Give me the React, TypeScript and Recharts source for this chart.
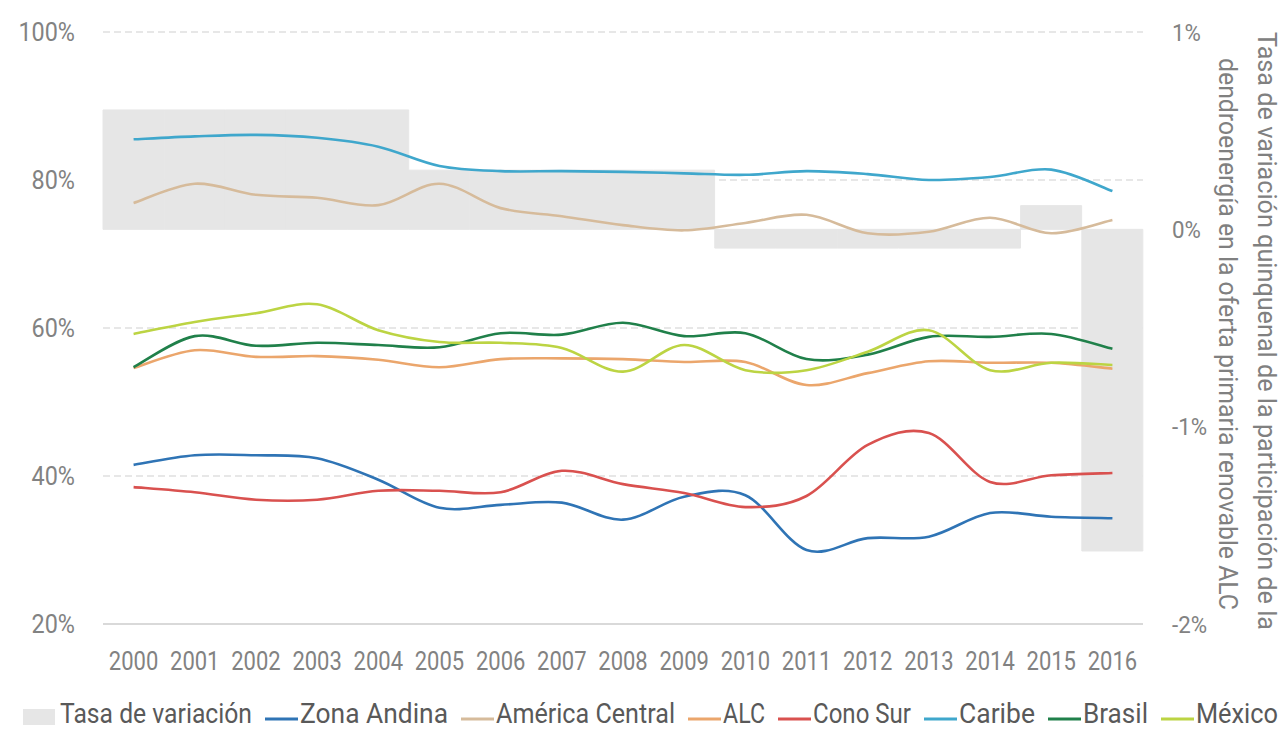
import React from 'react';
import { ComposedChart, Bar, Line, XAxis, YAxis, CartesianGrid, Legend } from 'recharts';

const years = ['2000', '2001', '2002', '2003', '2004', '2005', '2006', '2007', '2008', '2009', '2010', '2011', '2012', '2013', '2014', '2015', '2016'];

// Right axis (%): quinquennial variation rate
const tasaVariacion = [0.605, 0.605, 0.605, 0.605, 0.605, 0.3, 0.3, 0.3, 0.3, 0.3, -0.095, -0.095, -0.095, -0.095, -0.095, 0.12, -1.63];

// Left axis (%)
const zonaAndina = [41.5, 42.8, 42.8, 42.4, 39.5, 35.7, 36.1, 36.4, 34.1, 37.2, 37.4, 30.0, 31.6, 31.8, 35.0, 34.5, 34.3];
const americaCentral = [76.9, 79.5, 78.0, 77.6, 76.6, 79.5, 76.2, 75.1, 73.9, 73.2, 74.2, 75.3, 72.8, 73.0, 74.9, 72.8, 74.6];
const alc = [54.6, 57.0, 56.1, 56.2, 55.7, 54.7, 55.8, 55.9, 55.8, 55.4, 55.4, 52.3, 53.9, 55.5, 55.3, 55.3, 54.5];
const conoSur = [38.5, 37.8, 36.8, 36.8, 38.0, 38.0, 37.8, 40.7, 38.9, 37.7, 35.8, 37.3, 44.2, 45.8, 39.2, 40.1, 40.4];
const caribe = [85.5, 85.9, 86.1, 85.7, 84.5, 81.9, 81.2, 81.2, 81.1, 80.9, 80.7, 81.2, 80.8, 80.0, 80.4, 81.4, 78.5];
const brasil = [54.7, 58.9, 57.6, 58.0, 57.7, 57.4, 59.3, 59.1, 60.7, 58.9, 59.3, 55.8, 56.4, 58.8, 58.8, 59.2, 57.2];
const mexico = [59.2, 60.8, 62.0, 63.2, 59.7, 58.1, 58.0, 57.3, 54.1, 57.7, 54.3, 54.3, 56.8, 59.7, 54.3, 55.3, 55.0];

const leftTicks = [20, 40, 60, 80, 100];
const rightTicks = [-2, -1, 0, 1];

const barName = 'Tasa de variación';
const rightTitleLine1 = 'Tasa de variación quinquenal de la participación de la';
const rightTitleLine2 = 'dendroenergía en la oferta primaria renovable ALC';

const series = [
  { key: 'zonaAndina', name: 'Zona Andina', color: '#2f74b5', values: zonaAndina },
  { key: 'americaCentral', name: 'América Central', color: '#d6bb9b', values: americaCentral },
  { key: 'alc', name: 'ALC', color: '#eba66c', values: alc },
  { key: 'conoSur', name: 'Cono Sur', color: '#d9514f', values: conoSur },
  { key: 'caribe', name: 'Caribe', color: '#3fa7cc', values: caribe },
  { key: 'brasil', name: 'Brasil', color: '#20804a', values: brasil },
  { key: 'mexico', name: 'México', color: '#bcd443', values: mexico },
];

// approximate rendered widths of the legend labels (condensed face)
const legendLabelWidths = [192, 148, 179, 42, 98, 76, 65, 82];

const data = years.map((year, i) => {
  const row: Record<string, string | number> = { year, tasa: tasaVariacion[i] };
  series.forEach((s) => {
    row[s.key] = s.values[i];
  });
  return row;
});

const FONT = "Roboto, 'Noto Sans', sans-serif";
const TICK_COLOR = '#828282';
const LEGEND_H = 44;

// Smooth curve (uniform Catmull-Rom, like a spreadsheet "smoothed line")
function smoothCurve(context: any) {
  let pts: number[][] = [];
  return {
    areaStart() {},
    areaEnd() {},
    lineStart() {
      pts = [];
    },
    point(x: number, y: number) {
      pts.push([+x, +y]);
    },
    lineEnd() {
      const n = pts.length;
      if (!n) return;
      context.moveTo(pts[0][0], pts[0][1]);
      for (let i = 0; i < n - 1; i++) {
        const p0 = pts[i - 1] || pts[i];
        const p1 = pts[i];
        const p2 = pts[i + 1];
        const p3 = pts[i + 2] || p2;
        context.bezierCurveTo(
          p1[0] + (p2[0] - p0[0]) / 6,
          p1[1] + (p2[1] - p0[1]) / 6,
          p2[0] - (p3[0] - p1[0]) / 6,
          p2[1] - (p3[1] - p1[1]) / 6,
          p2[0],
          p2[1]
        );
      }
    },
  };
}

const makeTick = (anchor: 'start' | 'middle' | 'end', size: number, sx: number, dy: string) => (props: any) => {
  const { x, y, payload, tickFormatter } = props;
  const label = tickFormatter ? tickFormatter(payload.value, payload.index) : payload.value;
  return (
    <text
      transform={`translate(${x},${y}) scale(${sx},1)`}
      x={0}
      y={0}
      dy={dy}
      textAnchor={anchor}
      fill={TICK_COLOR}
      fontSize={size}
      fontFamily={FONT}
    >
      {label}
    </text>
  );
};

const XTick = makeTick('middle', 25, 0.88, '0.71em');
const LeftTick = makeTick('end', 26, 0.9, '0.355em');
const RightTick = makeTick('start', 24, 0.93, '0.355em');

const RightTitle = () => (
  <g fill="#808080" fontFamily={FONT} fontSize={26}>
    <text
      x={1258}
      y={331}
      transform="rotate(90, 1258, 331)"
      textAnchor="middle"
      textLength={598}
      lengthAdjust="spacingAndGlyphs"
    >
      {rightTitleLine1}
    </text>
    <text
      x={1219}
      y={334}
      transform="rotate(90, 1219, 334)"
      textAnchor="middle"
      textLength={552}
      lengthAdjust="spacingAndGlyphs"
    >
      {rightTitleLine2}
    </text>
  </g>
);

const renderLegend = () => {
  const items: React.ReactNode[] = [];
  let x = 23;
  items.push(<rect key="sq" x={x} y={22} width={32} height={16} fill="#e6e6e6" />);
  x += 32 + 5;
  items.push(
    <text key="t0" x={x} y={36} textLength={legendLabelWidths[0]} lengthAdjust="spacingAndGlyphs">
      {barName}
    </text>
  );
  x += legendLabelWidths[0];
  series.forEach((s, i) => {
    x += 13;
    items.push(<line key={`l${i}`} x1={x} x2={x + 33} y1={32} y2={32} stroke={s.color} strokeWidth={3} />);
    x += 35;
    items.push(
      <text key={`t${i + 1}`} x={x} y={36} textLength={legendLabelWidths[i + 1]} lengthAdjust="spacingAndGlyphs">
        {s.name}
      </text>
    );
    x += legendLabelWidths[i + 1];
  });
  return (
    <svg width={1283} height={LEGEND_H} style={{ display: 'block' }}>
      <g fontFamily={FONT} fontSize={27} fill="#595959">
        {items}
      </g>
    </svg>
  );
};

export default function App() {
  return (
    <div style={{ position: 'absolute', left: 0, top: 0, width: 1283, height: 731, background: '#fff' }}>
      <ComposedChart
        width={1283}
        height={731}
        data={data}
        margin={{ top: 32, right: 0, bottom: 0, left: 0 }}
        barCategoryGap={0}
        barGap={0}
      >
        <CartesianGrid yAxisId="left" vertical={false} stroke="#cfcfcf" strokeDasharray="7 4" />
        <XAxis
          dataKey="year"
          height={107 - LEGEND_H}
          tickLine={false}
          tickSize={0}
          tickMargin={28}
          axisLine={{ stroke: '#d9d9d9', strokeWidth: 2 }}
          tick={XTick}
          interval={0}
        />
        <YAxis
          yAxisId="left"
          width={103}
          domain={[20, 100]}
          ticks={leftTicks}
          tickFormatter={(v: number) => `${v}%`}
          axisLine={false}
          tickLine={false}
          tickSize={0}
          tickMargin={28}
          tick={LeftTick}
        />
        <YAxis
          yAxisId="right"
          orientation="right"
          width={140}
          domain={[-2, 1]}
          ticks={rightTicks}
          tickFormatter={(v: number) => `${v}%`}
          axisLine={false}
          tickLine={false}
          tickSize={0}
          tickMargin={29}
          tick={RightTick}
          label={<RightTitle />}
        />
        <Legend verticalAlign="bottom" content={renderLegend} wrapperStyle={{ left: 0, width: 1283, height: LEGEND_H }} />
        <Bar
          yAxisId="right"
          dataKey="tasa"
          name={barName}
          fill="#e6e6e6"
          stroke="#e6e6e6"
          strokeWidth={1}
          isAnimationActive={false}
        />
        {series.map((s) => (
          <Line
            key={s.key}
            yAxisId="left"
            dataKey={s.key}
            name={s.name}
            stroke={s.color}
            strokeWidth={2.6}
            dot={false}
            activeDot={false}
            type={smoothCurve as any}
            isAnimationActive={false}
          />
        ))}
      </ComposedChart>
    </div>
  );
}
